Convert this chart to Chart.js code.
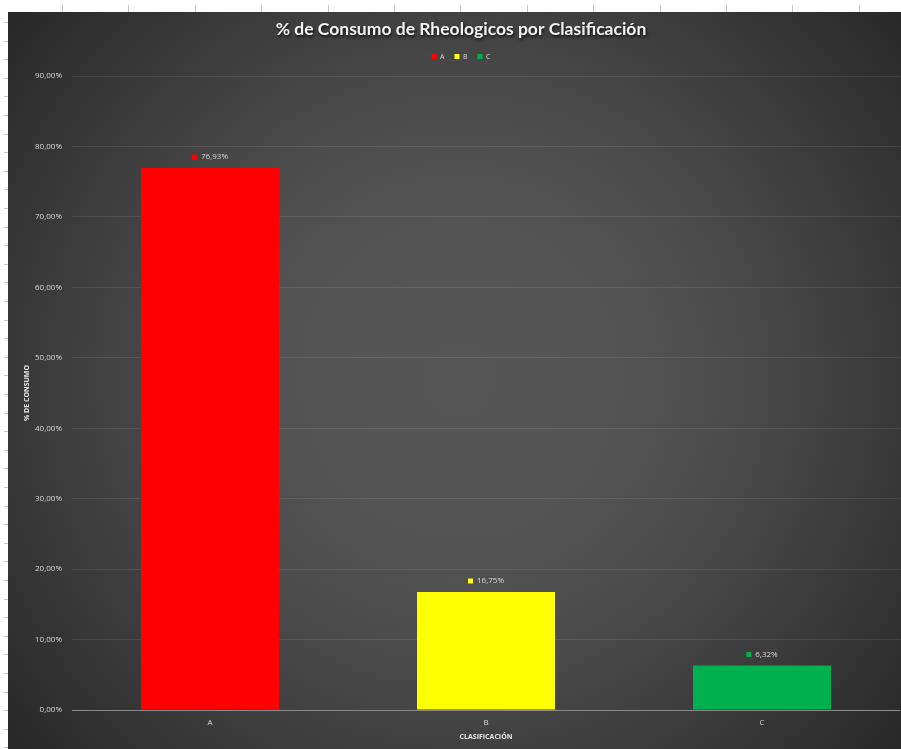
<!DOCTYPE html>
<html>
<head>
<meta charset="utf-8">
<script src="https://cdn.jsdelivr.net/npm/chart.js@4/dist/chart.umd.min.js"></script>
<style>
  html, body { margin: 0; padding: 0; background: #fff; overflow: hidden; }
  #wrap { width: 901px; height: 749px; overflow: hidden; position: relative; }
  #chart { position: absolute; left: 0; top: 0; }
</style>
</head>
<body>
<div id="wrap"><canvas id="chart" width="914" height="749"></canvas></div>
<script>
const categories = ['A', 'B', 'C'];
const consumo = [76.93, 16.75, 6.32];
const barColors = ['#ff0000', '#ffff00', '#00b050'];
const yMax = 90;
const yStep = 10;

function pct(v) {
  return v.toFixed(2).replace('.', ',') + '%';
}

// sheet edge + dark radial panel behind the chart
const panelBg = {
  id: 'panelBg',
  beforeLayout(chart) {
    // a bit more room between the legend and the plot
    const lg = chart.legend;
    if (lg && !lg._extraGap) {
      const fit = lg.fit.bind(lg);
      lg.fit = function () { fit(); this.height += 6; };
      lg._extraGap = true;
    }
    // soft drop shadow under the title text
    const tb = chart.titleBlock;
    if (tb && !tb._shadow) {
      const draw = tb.draw.bind(tb);
      tb.draw = function () {
        const ctx = chart.ctx;
        ctx.save();
        ctx.shadowColor = 'rgba(0,0,0,0.75)';
        ctx.shadowBlur = 3;
        ctx.shadowOffsetX = 1;
        ctx.shadowOffsetY = 1.5;
        draw();
        ctx.restore();
      };
      tb._shadow = true;
    }
  },
  beforeDraw(chart) {
    const ctx = chart.ctx;
    const w = chart.width, h = chart.height;
    ctx.save();
    ctx.fillStyle = '#ffffff';
    ctx.fillRect(0, 0, w, h);
    // column ruler marks along the top
    ctx.strokeStyle = '#c8c8c8';
    ctx.lineWidth = 1;
    for (let x = 62; x < w; x += 66.4) {
      ctx.beginPath();
      ctx.moveTo(Math.round(x) + 0.5, 5);
      ctx.lineTo(Math.round(x) + 0.5, 12);
      ctx.stroke();
    }
    // row marks along the left edge
    for (let y = 22; y < h; y += 18.6) {
      ctx.beginPath();
      ctx.moveTo(4, Math.round(y) + 0.5);
      ctx.lineTo(8, Math.round(y) + 0.5);
      ctx.stroke();
    }
    const g = ctx.createRadialGradient(460, 378, 0, 460, 378, 620);
    g.addColorStop(0, '#565656');
    g.addColorStop(0.25, '#545454');
    g.addColorStop(0.45, '#4b4b4b');
    g.addColorStop(0.7, '#393939');
    g.addColorStop(1, '#232323');
    ctx.fillStyle = g;
    ctx.fillRect(8, 12, w - 8, h - 12);
    ctx.restore();
  }
};

// value labels with a colour key above each bar
const barLabels = {
  id: 'barLabels',
  afterDatasetsDraw(chart) {
    const ctx = chart.ctx;
    const meta = chart.getDatasetMeta(0);
    ctx.save();
    ctx.font = '8px "Open Sans"';
    ctx.textBaseline = 'middle';
    ctx.textAlign = 'left';
    meta.data.forEach((bar, i) => {
      const text = pct(consumo[i]);
      const tw = ctx.measureText(text).width;
      const total = 5 + 4 + tw;
      const x0 = bar.x - total / 2;
      const y = bar.y - 11;
      ctx.fillStyle = barColors[i];
      ctx.fillRect(x0, y - 2.5, 5, 5);
      ctx.fillStyle = '#d9d9d9';
      ctx.fillText(text, x0 + 9, y);
    });
    ctx.restore();
  }
};

new Chart(document.getElementById('chart'), {
  type: 'bar',
  data: {
    labels: categories,
    datasets: [{
      label: '% de Consumo',
      data: consumo,
      backgroundColor: barColors,
      borderWidth: 0,
      categoryPercentage: 1,
      barPercentage: 0.5
    }]
  },
  options: {
    responsive: false,
    animation: false,
    layout: { padding: { left: 8, top: 12, right: 0, bottom: 8 } },
    plugins: {
      title: {
        display: true,
        text: '% de Consumo de Rheologicos por Clasificación',
        color: '#f2f2f2',
        font: { family: 'Lato', size: 17.5, weight: 'bold' },
        padding: { top: 7, bottom: 3 }
      },
      legend: {
        display: true,
        position: 'top',
        labels: {
          color: '#d9d9d9',
          font: { family: 'Open Sans', size: 7 },
          boxWidth: 5,
          boxHeight: 5,
          padding: 10,
          generateLabels() {
            return categories.map((c, i) => ({
              text: c,
              fillStyle: barColors[i],
              strokeStyle: barColors[i],
              lineWidth: 0,
              fontColor: '#d9d9d9',
              index: i
            }));
          }
        },
        onClick() {}
      },
      tooltip: { enabled: false }
    },
    scales: {
      x: {
        grid: { display: false, drawTicks: false, tickLength: 0 },
        border: { display: false },
        ticks: { color: '#d9d9d9', font: { family: 'Open Sans', size: 8 }, padding: 8 },
        title: {
          display: true,
          text: 'CLASIFICACIÓN',
          color: '#e6e6e6',
          font: { family: 'Open Sans', size: 7, weight: 'bold' },
          padding: { top: -3, bottom: 0 }
        }
      },
      y: {
        min: 0,
        max: yMax,
        afterFit(scale) { scale.width = 64; },
        ticks: {
          stepSize: yStep,
          color: '#d9d9d9',
          font: { family: 'Open Sans', size: 8 },
          padding: 10,
          callback: v => pct(v)
        },
        grid: {
          color: ctx => ctx.tick && ctx.tick.value === 0 ? '#8c8c8c' : 'rgba(255,255,255,0.09)',
          lineWidth: 1,
          drawTicks: false
        },
        border: { display: false },
        title: {
          display: true,
          text: '% DE CONSUMO',
          color: '#e6e6e6',
          font: { family: 'Open Sans', size: 7, weight: 'bold' },
          padding: { top: 15, bottom: 0 }
        }
      },
      // empty strip on the right so the plot stops at the sheet edge
      yRight: {
        position: 'right',
        min: 0,
        max: yMax,
        display: true,
        afterFit(scale) { scale.width = 14; },
        ticks: { display: false },
        grid: { display: false },
        border: { display: false }
      }
    }
  },
  plugins: [panelBg, barLabels]
});
</script>
</body>
</html>
